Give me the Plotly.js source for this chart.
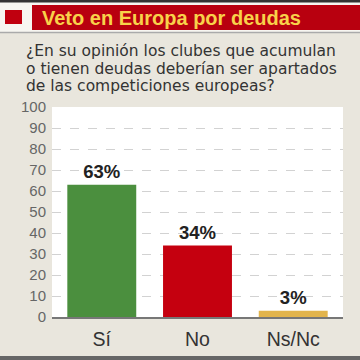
<!DOCTYPE html>
<html><head><meta charset="utf-8">
<script src="https://cdn.plot.ly/plotly-3.0.1.min.js"></script>
<style>html,body{margin:0;padding:0;background:#e9e6dd;}#chart{width:360px;height:360px;}</style>
</head><body><div id="chart"></div>
<script>
const categories = ['Sí', 'No', 'Ns/Nc'];
const values = [63, 34, 3];
const barColors = ['#4b8f3e', '#c5000f', '#e2b44c'];
const yTicks = [0, 10, 20, 30, 40, 50, 60, 70, 80, 90, 100];
const titleText = 'Veto en Europa por deudas';
const questionLines = ['¿En su opinión los clubes que acumulan', 'o tienen deudas deberían ser apartados', 'de las competiciones europeas?'];

const L = 52, R = 343, T = 107, B = 317;
const px = x => (x - L) / (R - L);
const py = y => (B - y) / (B - T);

const shapes = [
  {type:'rect', xref:'paper', yref:'paper', x0:px(0), x1:px(360), y0:py(2), y1:py(32), fillcolor:'#f7f6f1', line:{width:0}, layer:'below'},
  {type:'rect', xref:'paper', yref:'paper', x0:px(0), x1:px(360), y0:py(0), y1:py(2.5), fillcolor:'#333333', line:{width:0}},
  {type:'rect', xref:'paper', yref:'paper', x0:px(5), x1:px(22), y0:py(10), y1:py(24), fillcolor:'#c0000f', line:{width:0}},
  {type:'rect', xref:'paper', yref:'paper', x0:px(32), x1:px(360), y0:py(5), y1:py(30), fillcolor:'#b8000f', line:{width:0}},
  {type:'line', xref:'paper', yref:'paper', x0:px(0), x1:px(360), y0:py(32.5), y1:py(32.5), line:{color:'#aaaaaa', width:1.5}},
  {type:'rect', xref:'paper', yref:'paper', x0:px(0), x1:px(360), y0:py(356), y1:py(360), fillcolor:'#666666', line:{width:0}}
];

const annotations = [
  {xref:'paper', yref:'paper', x:px(40), y:py(18), xanchor:'left', yanchor:'middle', showarrow:false,
   text:'<b>' + titleText + '</b>', font:{family:'Liberation Sans, Arial, sans-serif', size:20, color:'#f8d24a'}}
];
const lineY = [50.5, 68.5, 86.5];
questionLines.forEach((t, i) => annotations.push({xref:'paper', yref:'paper', x:px(24), y:py(lineY[i]), xanchor:'left', yanchor:'middle', showarrow:false,
  text:t, font:{family:'DejaVu Sans, sans-serif', size:15.5, color:'#333333'}}));

const trace = {
  type:'bar', x:categories, y:values,
  marker:{color:barColors, line:{width:0}},
  texttemplate:'<b>%{y}%</b>', textposition:'outside', cliponaxis:false,
  textfont:{family:'Liberation Sans, Arial, sans-serif', size:18.5, color:'#222222'},
  hoverinfo:'none'
};

const layout = {
  width:360, height:360,
  margin:{l:L, r:360-R, t:T, b:360-B, pad:0},
  paper_bgcolor:'#e9e6dd', plot_bgcolor:'#ffffff',
  showlegend:false, bargap:0.28,
  font:{family:'Liberation Sans, Arial, sans-serif'},
  xaxis:{type:'category', range:[-0.52, 2.52], showgrid:false, zeroline:false, showline:true, linecolor:'#777777', linewidth:2,
    ticks:'', tickfont:{size:19.5, color:'#333333'}, ticklabelstandoff:4, fixedrange:true},
  yaxis:{range:[0, 100], tickvals:yTicks, showgrid:true, gridcolor:'#d2d2d2', griddash:'dash', gridwidth:1,
    zeroline:false, showline:false, ticks:'', tickfont:{size:15, color:'#666666'}, ticklabelstandoff:5, fixedrange:true},
  shapes:shapes, annotations:annotations
};

Plotly.newPlot('chart', [trace], layout, {staticPlot:true, displayModeBar:false});
</script></body></html>
